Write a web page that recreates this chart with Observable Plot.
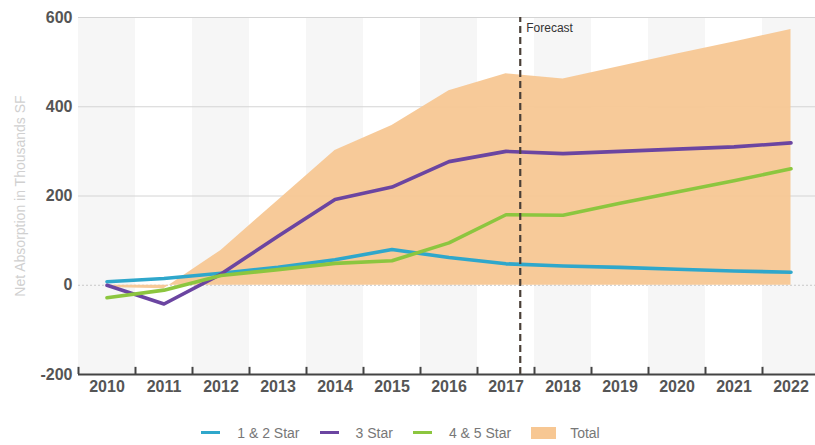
<!DOCTYPE html>
<html>
<head>
<meta charset="utf-8">
<script src="https://cdn.jsdelivr.net/npm/d3@7"></script>
<script src="https://cdn.jsdelivr.net/npm/@observablehq/plot@0.6"></script>
<style>
  body { margin: 0; background: #fff; font-family: "Liberation Sans", Arial, sans-serif; }
  #chart svg { display: block; }
  #legend { display: flex; justify-content: center; align-items: center; height: 25px; font-size: 14px; color: #777; padding-right: 14px; }
  .item { display: flex; align-items: center; margin: 0 10px; }
  .sw { display: inline-block; }
</style>
</head>
<body>
<div id="chart"></div>
<div id="legend"></div>
<script>
// Net absorption by building class, thousands of SF (2018 onward is forecast)
const years        = [2010, 2011, 2012, 2013, 2014, 2015, 2016, 2017, 2018, 2019, 2020, 2021, 2022];
const oneTwoStar   = [8, 15, 27, 40, 57, 80, 62, 48, 43, 40, 36, 32, 29];
const threeStar    = [0, -42, 25, 110, 192, 220, 277, 300, 295, 300, 305, 310, 319];
const fourFiveStar = [-28, -11, 22, 35, 49, 55, 95, 158, 157, 184, 209, 234, 261];
const total        = [-5, -8, 78, 190, 302, 358, 436, 474, 462, 490, 518, 545, 573];

const seriesNames  = ["1 & 2 Star", "3 Star", "4 & 5 Star", "Total"];
const seriesColors = ["#2fa7cb", "#6b45a1", "#8cc63f", "#f7c793"];
const yTicks       = [-200, 0, 200, 400, 600];
const gridValues   = [200, 400, 600];
const forecastAt   = 2017.25;
const forecastText = "Forecast";
const yTitle       = "Net Absorption in Thousands SF";

const rows = years.map((year, i) => ({
  year,
  "1 & 2 Star": oneTwoStar[i],
  "3 Star": threeStar[i],
  "4 & 5 Star": fourFiveStar[i],
  "Total": total[i]
}));
const lineSeries = seriesNames.slice(0, 3).flatMap((name, k) =>
  rows.map(r => ({year: r.year, series: name, value: r[name], color: seriesColors[k]}))
);
const stripes = years.filter((y, i) => i % 2 === 0);
const yearBounds = [years[0] - 0.5, ...years.map(y => y + 0.5)];
const yMin = yTicks[0], yMax = yTicks[yTicks.length - 1];

const chart = Plot.plot({
  width: 815,
  height: 420,
  marginTop: 17,
  marginBottom: 46,
  marginLeft: 78,
  marginRight: 0,
  style: {fontFamily: "'Liberation Sans', Arial, sans-serif", background: "transparent"},
  x: {domain: [years[0] - 0.5, years[years.length - 1] + 0.5], range: [78, 819]},
  y: {domain: [yMin, yMax], range: [374, 17]},
  marks: [
    // alternating column shading
    Plot.rect(stripes, {x1: d => d - 0.5, x2: d => d + 0.5, y1: () => yMin, y2: () => yMax, fill: "#f6f6f6"}),
    Plot.ruleY(gridValues, {stroke: "#d4d4d4", strokeWidth: 1}),
    Plot.ruleY([0], {stroke: "#c8c8c8", strokeDasharray: "2,2"}),
    // total as a filled area
    Plot.areaY(rows, {x: "year", y: "Total", fill: seriesColors[3], fillOpacity: 0.95}),
    // building-class lines
    Plot.line(lineSeries, {x: "year", y: "value", z: "series", stroke: "color", strokeWidth: 3.6, strokeLinejoin: "round"}),
    // forecast divider
    Plot.ruleX([forecastAt], {y1: () => yMin, y2: () => yMax, stroke: "#4a4038", strokeWidth: 2.2, strokeDasharray: "7,4"}),
    Plot.text([forecastText], {x: () => forecastAt, y: () => yMax, dx: 6, dy: 11, text: d => d, textAnchor: "start", fontSize: 12, fill: "#333"}),
    // x axis baseline, year-boundary ticks and labels
    Plot.ruleY([yMin], {stroke: "#444", strokeWidth: 2}),
    Plot.ruleX(yearBounds, {y1: () => yMin, y2: () => yMin + 16, stroke: "#444", strokeWidth: 2}),
    Plot.axisX(years, {tickSize: 0, tickPadding: 6, tickFormat: d => String(d), fontSize: 16, fontWeight: "bold", fill: "#555", label: null}),
    Plot.axisY(yTicks, {tickSize: 0, tickPadding: 6, tickFormat: d => String(d), fontSize: 16, fontWeight: "bold", fill: "#555", label: null}),
    Plot.text([yTitle], {frameAnchor: "left", dx: -58, rotate: -90, textAnchor: "middle", text: d => d, fontSize: 14, fill: "#d0d0d0"})
  ]
});
document.getElementById("chart").append(chart);

// legend
const legend = d3.select("#legend");
seriesNames.forEach((name, k) => {
  const item = legend.append("div").attr("class", "item");
  const isArea = name === "Total";
  item.append("span").attr("class", "sw")
    .style("width", isArea ? "25px" : "19px")
    .style("height", isArea ? "12px" : "3px")
    .style("margin-right", isArea ? "14px" : "17px")
    .style("background", seriesColors[k]);
  item.append("span").text(name);
});
</script>
</body>
</html>
